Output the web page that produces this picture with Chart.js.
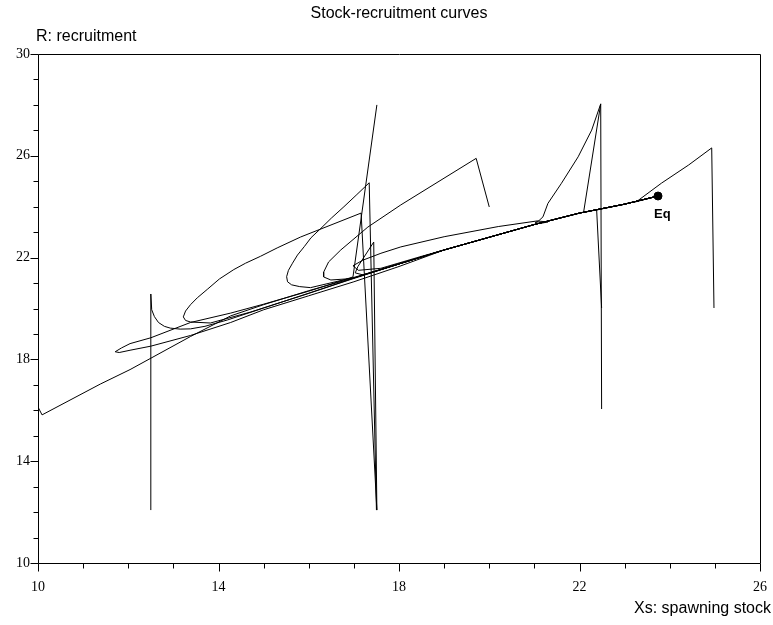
<!DOCTYPE html>
<html>
<head>
<meta charset="utf-8">
<script src="https://cdn.jsdelivr.net/npm/chart.js@4.4.0/dist/chart.umd.min.js"></script>
<style>
html, body { margin: 0; padding: 0; background: #fff; }
</style>
</head>
<body>
<canvas id="myChart" width="773" height="625"></canvas>
<script>
// branch that every curve ends on, running into Eq
var mainX = [15, 16, 17, 18, 19, 20, 21, 22, 23, 23.74];
var mainY = [20.2, 20.7, 21.2, 21.75, 22.3, 22.8, 23.3, 23.75, 24.1, 24.42];
var eqPoint = [23.74, 24.42];

var xTicks = [10, 14, 18, 22, 26];
var yTicks = [10, 14, 18, 22, 26, 30];

// trajectories, [Xs, R] pairs
var trajA = [[10.0,16.13],[10.09,15.82],[11.38,17.03],[12.04,17.6],[13.38,18.9],[14.27,19.71],[15.0,20.15]];
var trajB = [[12.5,12.08],[12.5,20.57],[12.52,19.95],[12.58,19.68],[12.67,19.45],[12.8,19.3],[12.93,19.23],
             [13.15,19.19],[13.38,19.2],[13.7,19.3],[14.2,19.55],[15.0,20.02],[16.0,20.6]];
var trajC = [[17.51,28.0],[16.98,21.24],[16.0,20.68],[15.0,20.17],[14.27,19.82],[13.38,19.45],[12.5,18.85],
             [12.04,18.62],[11.85,18.45],[11.71,18.3],[11.8,18.27],[12.04,18.36],[12.5,18.52],[13.38,18.94],
             [14.27,19.45],[15.0,19.95],[16.0,20.5],[17.0,21.05],[18.0,21.65]];
var trajD = [[17.5,12.08],[17.34,24.94],[17.05,24.45],[16.78,24.0],[16.5,23.55],[16.27,23.15],[16.05,22.78],
             [15.9,22.43],[15.75,22.1],[15.64,21.78],[15.55,21.5],[15.51,21.25],[15.53,21.05],[15.62,20.93],
             [15.8,20.86],[16.04,20.82],[17.0,21.22]];
var trajE = [[17.51,12.08],[17.16,23.75],[15.82,22.81],[15.3,22.38],[14.93,22.05],[14.6,21.78],[14.34,21.53],
             [14.02,21.16],[13.75,20.75],[13.53,20.42],[13.38,20.15],[13.27,19.9],[13.22,19.67],[13.27,19.53],
             [13.38,19.47],[13.82,19.43],[14.71,19.86],[15.82,20.49],[17.0,21.18]];
var trajF = [[17.51,12.08],[17.44,22.61],[17.09,21.65],[17.03,21.4],[17.2,21.32]];
var trajG = [[22.49,16.05],[22.47,28.04],[22.27,27.01],[21.97,25.96],[21.6,24.92],[21.3,24.13],[21.19,23.6],
             [21.1,23.45],[21.02,23.38],[21.12,23.34],[21.3,23.4],[21.06,23.44],[20.2,23.22],[19.0,22.82],
             [18.04,22.42],[17.6,22.17],[17.2,21.9],[16.98,21.68],[17.1,21.5],[17.6,21.58],[18.5,22.05]];
var trajH = [[22.47,28.04],[22.09,23.77]];
var trajI = [[22.49,20.02],[22.38,23.87]];
var trajJ = [[20.0,23.99],[19.71,25.9],[18.04,24.07],[17.31,23.2],[16.71,22.3],[16.44,21.83],[16.33,21.43],
             [16.33,21.24],[16.49,21.12],[16.82,21.16]];
var trajK = [[24.98,20.02],[24.93,26.31],[24.42,25.64],[23.82,24.93],[23.31,24.26],[23.22,24.18]];

var trajectories = [trajA, trajB, trajC, trajD, trajE, trajF, trajG, trajH, trajI, trajJ, trajK];

// add the rest of the main branch after the last point of a curve
function withTail(pts) {
    var lastX = pts[pts.length - 1][0];
    var all = pts.slice();
    for (var i = 0; i < mainX.length; i++) {
        if (mainX[i] > lastX + 0.1) all.push([mainX[i], mainY[i]]);
    }
    return all.map(function(p) { return {x: p[0], y: p[1]}; });
}

var datasets = trajectories.map(function(t) {
    return {
        data: withTail(t),
        showLine: true,
        borderColor: '#000',
        borderWidth: 1,
        pointRadius: 0,
        tension: 0
    };
});
datasets.push({
    data: [{x: eqPoint[0], y: eqPoint[1]}],
    showLine: false,
    pointRadius: 4,
    pointBackgroundColor: '#000',
    pointBorderColor: '#000'
});

var sans = '"Liberation Sans", Arial, sans-serif';
var serif = '"Liberation Serif", "Times New Roman", serif';

// frame, minor/major tick marks and the loose texts
var decor = {
    id: 'decor',
    afterDraw: function(chart) {
        var ctx = chart.ctx, a = chart.chartArea;
        var xs = chart.scales.x, ys = chart.scales.y;
        ctx.save();
        ctx.strokeStyle = '#000';
        ctx.lineWidth = 1;
        ctx.beginPath();
        ctx.rect(Math.round(a.left) + 0.5, Math.round(a.top) + 0.5,
                 Math.round(a.right - a.left), Math.round(a.bottom - a.top));
        for (var v = 10; v <= 26; v++) {
            var px = Math.round(xs.getPixelForValue(v)) + 0.5;
            var len = xTicks.indexOf(v) >= 0 ? 8 : 5;
            ctx.moveTo(px, Math.round(a.bottom) + 0.5);
            ctx.lineTo(px, Math.round(a.bottom) + 0.5 + len);
        }
        for (var w = 10; w <= 30; w++) {
            var py = Math.round(ys.getPixelForValue(w)) + 0.5;
            var len2 = yTicks.indexOf(w) >= 0 ? 8 : 5;
            ctx.moveTo(Math.round(a.left) + 0.5, py);
            ctx.lineTo(Math.round(a.left) + 0.5 - len2, py);
        }
        ctx.stroke();

        ctx.fillStyle = '#000';
        ctx.font = '16px ' + sans;
        ctx.textBaseline = 'middle';
        ctx.textAlign = 'center';
        ctx.fillText('Stock-recruitment curves', (a.left + a.right) / 2, 14);
        ctx.textAlign = 'left';
        ctx.fillText('R: recruitment', 36, 37);
        ctx.textAlign = 'right';
        ctx.fillText('Xs: spawning stock', 771, 609);

        ctx.font = 'bold 13px ' + sans;
        ctx.textAlign = 'left';
        ctx.fillText('Eq', xs.getPixelForValue(eqPoint[0]) - 4, ys.getPixelForValue(eqPoint[1]) + 18);
        ctx.restore();
    }
};

var ctx = document.getElementById('myChart');
var myChart = new Chart(ctx, {
    type: 'scatter',
    data: { datasets: datasets },
    options: {
        responsive: false,
        animation: false,
        layout: { padding: { top: 54, right: 13, left: 0, bottom: 0 } },
        plugins: {
            legend: { display: false },
            tooltip: { enabled: false },
            title: { display: false }
        },
        scales: {
            x: {
                type: 'linear',
                min: 10,
                max: 26,
                grid: { display: false, drawTicks: false },
                border: { display: false },
                afterBuildTicks: function(s) { s.ticks = xTicks.map(function(v) { return {value: v}; }); },
                afterFit: function(s) { s.height = 62; s.paddingLeft = 0; s.paddingRight = 0; },
                ticks: { color: '#000', font: { family: serif, size: 14 }, padding: 16, maxRotation: 0, autoSkip: false }
            },
            y: {
                type: 'linear',
                min: 10,
                max: 30,
                grid: { display: false, drawTicks: false },
                border: { display: false },
                afterBuildTicks: function(s) { s.ticks = yTicks.map(function(v) { return {value: v}; }); },
                afterFit: function(s) { s.width = 38; s.paddingTop = 0; s.paddingBottom = 0; },
                ticks: { color: '#000', font: { family: serif, size: 14 }, padding: 8, autoSkip: false }
            }
        }
    },
    plugins: [decor]
});
</script>
</body>
</html>
